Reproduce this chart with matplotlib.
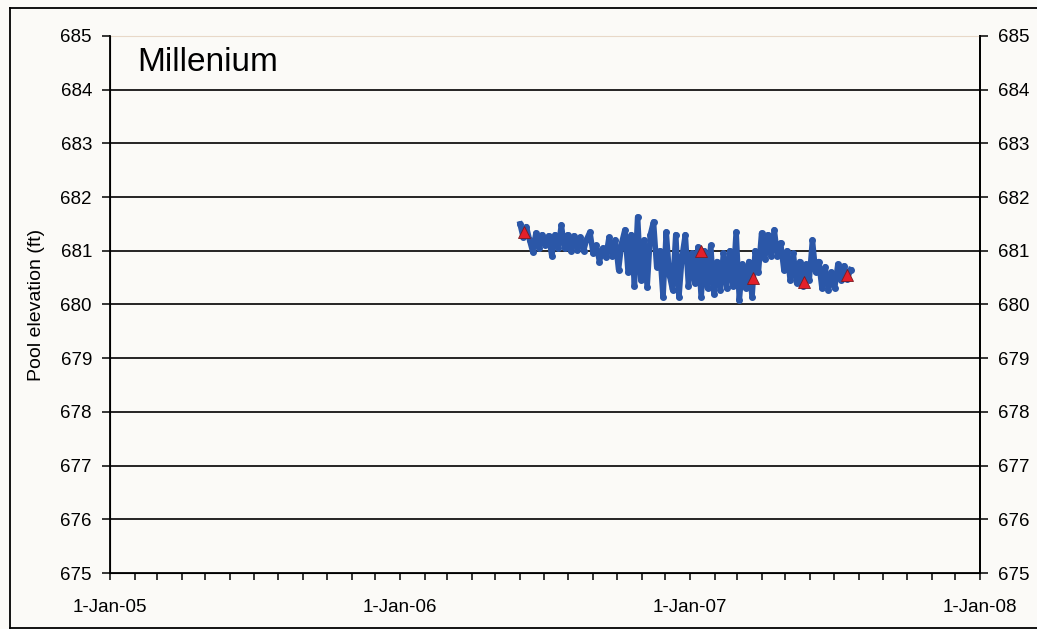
import pandas as pd
import numpy as np
import matplotlib.pyplot as plt
import matplotlib.dates as mdates
from matplotlib.lines import Line2D
from matplotlib.ticker import FuncFormatter

plt.rcParams['font.family'] = ['Liberation Sans', 'DejaVu Sans']

# pool elevation readings (ft), every 4 days from 1-Jun-2006
start_date = '2006-06-01'
pool_level = [681.50, 681.25, 681.45, 681.20, 680.98, 681.33, 681.05, 681.30, 681.10, 681.28,
              680.90, 681.30, 681.05, 681.48, 681.05, 681.30, 681.00, 681.28, 681.02, 681.25,
              681.00, 681.22, 681.35, 680.95, 681.10, 680.80, 681.05, 680.88, 681.25, 680.90,
              681.20, 680.65, 681.15, 681.39, 680.60, 681.30, 680.35, 681.63, 680.46, 681.20,
              680.33, 681.30, 681.54, 680.70, 681.00, 680.14, 681.35, 680.55, 680.27, 681.30,
              680.14, 680.90, 681.30, 680.35, 680.95, 680.40, 681.07, 680.14, 681.00, 680.30,
              681.10, 680.20, 680.80, 680.27, 680.95, 680.30, 681.00, 680.35, 681.35, 680.08,
              680.75, 680.30, 680.80, 680.14, 681.00, 680.60, 681.33, 680.85, 681.30, 680.90,
              681.39, 680.90, 681.15, 680.65, 681.00, 680.45, 680.95, 680.40, 680.80, 680.35,
              680.75, 680.45, 681.20, 680.60, 680.80, 680.30, 680.70, 680.27, 680.60, 680.30,
              680.75, 680.45, 680.72, 680.48, 680.65]

# survey points (red triangles)
survey_dates = ['2006-06-06', '2007-01-15', '2007-03-21', '2007-05-24', '2007-07-18']
survey_level = [681.35, 681.00, 680.50, 680.42, 680.55]

y_ticks = [675, 676, 677, 678, 679, 680, 681, 682, 683, 684, 685]

dates = pd.date_range(start_date, periods=len(pool_level), freq='4D')
s_dates = pd.to_datetime(survey_dates)

bg = '#fbfaf7'
fig = plt.figure(figsize=(10.37, 6.29), dpi=100, facecolor=bg)
ax = fig.add_axes([0.1061, 0.0890, 0.8390, 0.8538], facecolor=bg)

for y in y_ticks[1:-1]:
    ax.axhline(y, color='black', lw=1.2, zorder=1)

ax.plot(dates, pool_level, color='#2b57a8', lw=4, marker='o', ms=4,
        solid_joinstyle='round', zorder=3)
ax.plot(s_dates, survey_level, ls='none', marker='^', ms=9, color='#e3202a',
        mec='#7a1a20', mew=0.6, zorder=4)

ax.set_xlim(pd.Timestamp('2005-01-01'), pd.Timestamp('2008-01-01'))
ax.set_ylim(675, 685)
ax.set_yticks(y_ticks)

ax.xaxis.set_major_locator(mdates.YearLocator())
ax.xaxis.set_minor_locator(mdates.MonthLocator())
ax.xaxis.set_major_formatter(FuncFormatter(
    lambda v, p: '%d-%s' % (mdates.num2date(v).day, mdates.num2date(v).strftime('%b-%y'))))

ax.tick_params(axis='x', which='both', direction='out', length=5, width=1.1,
               labelsize=13.5, pad=14)
ax.tick_params(axis='y', direction='out', length=6, width=1.1, labelsize=13.5, pad=7)

for side in ['left', 'bottom']:
    ax.spines[side].set_linewidth(1.3)
ax.spines['top'].set_color('#e8d8c8')
ax.spines['top'].set_linewidth(0.8)
ax.spines['right'].set_linewidth(1.3)

ax.set_ylabel('Pool elevation (ft)', fontsize=14)
ax.yaxis.set_label_coords(-0.075, 0.5)

ax2 = ax.twinx()
ax2.set_ylim(675, 685)
ax2.set_yticks(y_ticks)
ax2.tick_params(axis='y', direction='out', length=6, width=1.1, labelsize=13.5, pad=7)
ax2.spines['right'].set_linewidth(1.3)
ax2.spines['top'].set_visible(False)

ax.text(0.031, 0.95, 'Millenium', transform=ax.transAxes, fontsize=24,
        va='center', ha='left')

# scanned page frame
fig.add_artist(Line2D([0.0096, 0.0096], [0.0016, 0.987], color='black', lw=1.3))
fig.add_artist(Line2D([0.0096, 1.0], [0.987, 0.987], color='black', lw=1.3))
fig.add_artist(Line2D([0.0096, 1.0], [0.0016, 0.0016], color='black', lw=1.3))

fig.savefig('out.png', dpi=100, facecolor=bg)
